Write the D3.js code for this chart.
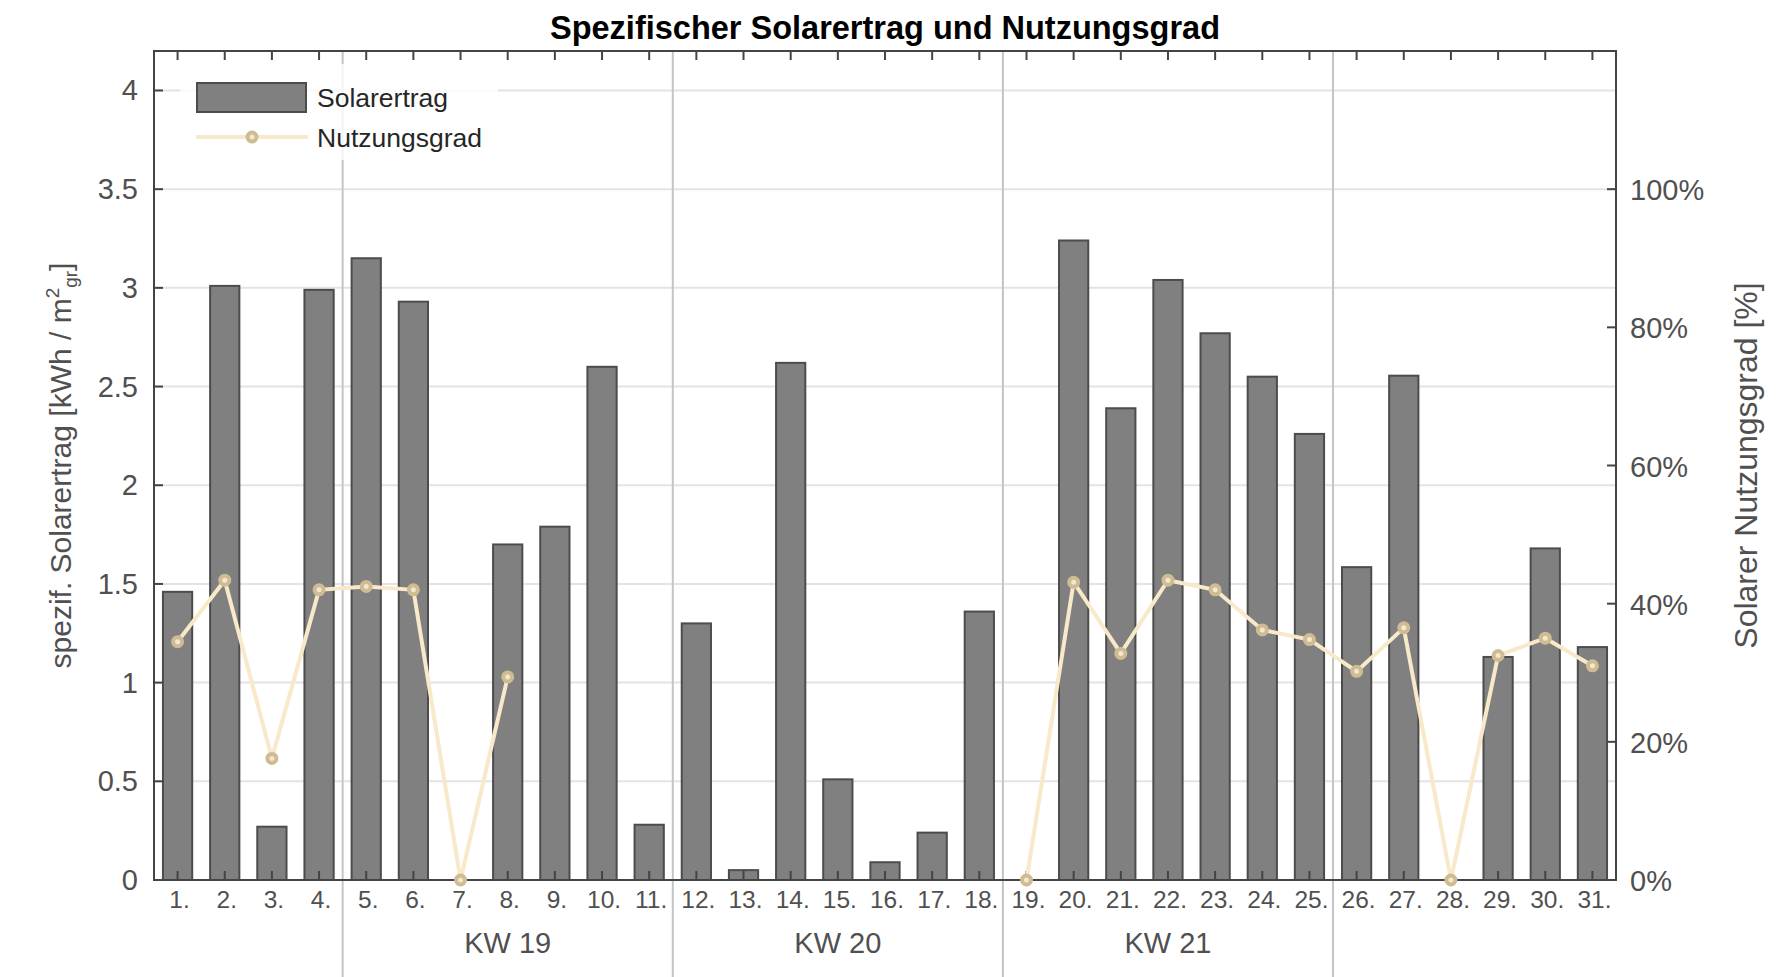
<!DOCTYPE html>
<html>
<head>
<meta charset="utf-8">
<script src="https://cdn.jsdelivr.net/npm/d3@7"></script>
<style>
  body { margin: 0; background: #fff; }
  text { font-family: "Liberation Sans", Arial, Helvetica, sans-serif; }
</style>
</head>
<body>
<div id="chart"></div>
<script>
// daily values, May (days 1..31)
var days = d3.range(1, 32);
var solarertrag = [1.46, 3.01, 0.27, 2.99, 3.15, 2.93, 0, 1.70, 1.79, 2.60, 0.28,
                   1.30, 0.05, 2.62, 0.51, 0.09, 0.24, 1.36, 0, 3.24, 2.39,
                   3.04, 2.77, 2.55, 2.26, 1.585, 2.555, 0, 1.13, 1.68, 1.18];
var nutzungsgrad = [0.345, 0.434, 0.176, 0.42, 0.425, 0.42, 0, 0.294, null, null, null,
                    null, null, null, null, null, null, null, 0, 0.431, 0.328,
                    0.434, 0.42, 0.362, 0.348, 0.302, 0.365, 0, 0.325, 0.35, 0.31];
var weekLabels = ["KW 19", "KW 20", "KW 21"];
var weekStarts = [5, 12, 19, 26];   // first day of each new week
var leftTicks = [0, 0.5, 1, 1.5, 2, 2.5, 3, 3.5, 4];
var rightTicks = [0, 0.2, 0.4, 0.6, 0.8, 1.0];

var W = 1792, H = 977;
var pL = 154, pR = 1616, pT = 51, pB = 880;
var textCol = "#505050";

var svg = d3.select("#chart").append("svg")
            .attr("width", W)
            .attr("height", H);

var x = d3.scaleBand().domain(days).range([pL, pR]).padding(0);
var yL = d3.scaleLinear().domain([0, 4.2]).range([pB, pT]);
var yR = d3.scaleLinear().domain([0, 1.2]).range([pB, pT]);

// horizontal grid
svg.append("g").selectAll("line").data(leftTicks).enter().append("line")
   .attr("x1", pL).attr("x2", pR)
   .attr("y1", function(d){ return yL(d); })
   .attr("y2", function(d){ return yL(d); })
   .attr("stroke", "#e3e3e3")
   .attr("stroke-width", 2);

// week separators (run down into the label area)
svg.append("g").selectAll("line").data(weekStarts).enter().append("line")
   .attr("x1", function(d){ return x(d); })
   .attr("x2", function(d){ return x(d); })
   .attr("y1", pT).attr("y2", H)
   .attr("stroke", "#c4c4c4")
   .attr("stroke-width", 2);

// bars
var barW = x.bandwidth() * 0.62;
svg.append("g").selectAll("rect").data(days).enter().append("rect")
   .attr("x", function(d){ return x(d) + (x.bandwidth() - barW) / 2; })
   .attr("y", function(d, i){ return yL(solarertrag[i]); })
   .attr("width", barW)
   .attr("height", function(d, i){ return pB - yL(solarertrag[i]); })
   .attr("fill", "#808080")
   .attr("stroke", "#4c4c4c")
   .attr("stroke-width", 2);

// axes box
svg.append("rect")
   .attr("x", pL).attr("y", pT)
   .attr("width", pR - pL).attr("height", pB - pT)
   .attr("fill", "none")
   .attr("stroke", "#444")
   .attr("stroke-width", 2);

// x ticks (inward, bottom and top)
var tk = 9;
days.forEach(function(d){
    var cx = x(d) + x.bandwidth() / 2;
    svg.append("line").attr("x1", cx).attr("x2", cx).attr("y1", pB).attr("y2", pB - tk)
       .attr("stroke", "#444").attr("stroke-width", 2);
    svg.append("line").attr("x1", cx).attr("x2", cx).attr("y1", pT).attr("y2", pT + tk)
       .attr("stroke", "#444").attr("stroke-width", 2);
    svg.append("text").text(d + ".")
       .attr("x", cx + 2).attr("y", 908)
       .attr("text-anchor", "middle")
       .attr("font-size", 24.5)
       .attr("fill", textCol);
});

// left y ticks
leftTicks.forEach(function(v){
    svg.append("line").attr("x1", pL).attr("x2", pL + tk).attr("y1", yL(v)).attr("y2", yL(v))
       .attr("stroke", "#444").attr("stroke-width", 2);
    svg.append("text").text(v)
       .attr("x", pL - 16).attr("y", yL(v) + 10)
       .attr("text-anchor", "end")
       .attr("font-size", 29)
       .attr("fill", textCol);
});

// right y ticks
rightTicks.forEach(function(v){
    svg.append("line").attr("x1", pR).attr("x2", pR - tk).attr("y1", yR(v)).attr("y2", yR(v))
       .attr("stroke", "#444").attr("stroke-width", 2);
    svg.append("text").text(Math.round(v * 100) + "%")
       .attr("x", pR + 14).attr("y", yR(v) + 11)
       .attr("text-anchor", "start")
       .attr("font-size", 29)
       .attr("fill", textCol);
});

// week labels
weekLabels.forEach(function(lab, i){
    var cx = (x(weekStarts[i]) + x(weekStarts[i + 1])) / 2;
    svg.append("text").text(lab)
       .attr("x", cx).attr("y", 953)
       .attr("text-anchor", "middle")
       .attr("font-size", 29)
       .attr("fill", textCol);
});

// Nutzungsgrad line + markers
var line = d3.line()
             .defined(function(d){ return d.v != null; })
             .x(function(d){ return x(d.day) + x.bandwidth() / 2; })
             .y(function(d){ return yR(d.v); });
var pts = days.map(function(d, i){ return {day: d, v: nutzungsgrad[i]}; });

svg.append("path").datum(pts)
   .attr("d", line)
   .attr("fill", "none")
   .attr("stroke", "#f7e9c9")
   .attr("stroke-width", 4);

svg.append("g").selectAll("circle").data(pts.filter(function(d){ return d.v != null; }))
   .enter().append("circle")
   .attr("cx", function(d){ return x(d.day) + x.bandwidth() / 2; })
   .attr("cy", function(d){ return yR(d.v); })
   .attr("r", 4.5)
   .attr("fill", "#f2e8cf")
   .attr("stroke", "#cfbc93")
   .attr("stroke-width", 4);

// legend
var lg = svg.append("g");
lg.append("rect").attr("x", 180).attr("y", 64).attr("width", 318).attr("height", 96)
  .attr("fill", "#fff").attr("fill-opacity", 0.8);
lg.append("rect").attr("x", 197).attr("y", 83).attr("width", 109).attr("height", 29)
  .attr("fill", "#808080").attr("stroke", "#4c4c4c").attr("stroke-width", 2);
lg.append("text").text("Solarertrag").attr("x", 317).attr("y", 107)
  .attr("font-size", 26.5).attr("fill", "#262626");
lg.append("line").attr("x1", 196).attr("x2", 308).attr("y1", 137).attr("y2", 137)
  .attr("stroke", "#f7e9c9").attr("stroke-width", 4);
lg.append("circle").attr("cx", 252).attr("cy", 137).attr("r", 4.5)
  .attr("fill", "#f2e8cf").attr("stroke", "#cfbc93").attr("stroke-width", 4);
lg.append("text").text("Nutzungsgrad").attr("x", 317).attr("y", 147)
  .attr("font-size", 26.5).attr("fill", "#262626");

// title
svg.append("text").text("Spezifischer Solarertrag und Nutzungsgrad")
   .attr("x", (pL + pR) / 2).attr("y", 39)
   .attr("text-anchor", "middle")
   .attr("font-size", 32.5)
   .attr("font-weight", "bold")
   .attr("fill", "#000");

// axis labels
var yl = svg.append("text")
   .attr("transform", "translate(71," + ((pT + pB) / 2) + ") rotate(-90)")
   .attr("text-anchor", "middle")
   .attr("font-size", 30)
   .attr("fill", textCol);
yl.append("tspan").text("spezif. Solarertrag [kWh / m");
yl.append("tspan").text("2").attr("font-size", 19).attr("dy", -12);
yl.append("tspan").text("gr").attr("font-size", 19).attr("dy", 18);
yl.append("tspan").text("]").attr("dy", -6);

svg.append("text").text("Solarer Nutzungsgrad [%]")
   .attr("transform", "translate(1757," + ((pT + pB) / 2) + ") rotate(-90)")
   .attr("text-anchor", "middle")
   .attr("font-size", 32)
   .attr("fill", textCol);
</script>
</body>
</html>
